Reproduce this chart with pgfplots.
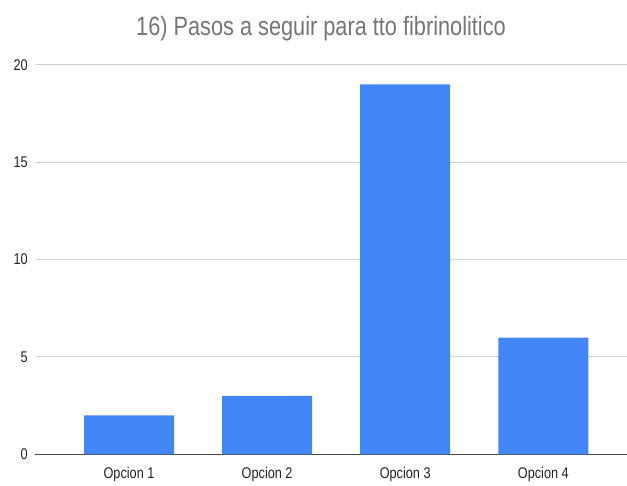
\documentclass[border=0pt]{standalone}
\usepackage{pgfplots}
\pgfplotsset{compat=1.18}
\usepackage{fontspec}
\setmainfont{Liberation Sans}[FakeStretch=0.82]
\definecolor{barblue}{HTML}{4285F4}
\definecolor{titlegrey}{HTML}{757575}
\definecolor{labelgrey}{HTML}{222222}
\definecolor{gridgrey}{HTML}{D0D0D0}
\definecolor{axisgrey}{HTML}{4A4A4A}
\begin{document}
\begin{tikzpicture}
\path[use as bounding box] (0,0) rectangle (627pt,485pt);
\node[anchor=base, text=titlegrey, font=\fontsize{26.5}{30}\selectfont] at (321pt,449pt)
  {16) Pasos a seguir para tto fibrinolitico};
\begin{axis}[
    at={(35pt,30.7pt)}, anchor=south west,
    scale only axis,
    width=592pt, height=389.3pt,
    ybar, bar width=90pt,
    xmin=-0.681, xmax=3.606,
    ymin=0, ymax=20,
    xtick=data,
    xticklabels={Opcion 1, Opcion 2, Opcion 3, Opcion 4},
    ytick={0,5,10,15,20},
    axis x line*=bottom, axis y line*=left,
    y axis line style={draw=none},
    x axis line style={draw=axisgrey, line width=1.3pt},
    major tick length=0pt,
    tick style={draw=none},
    ymajorgrids,
    grid style={gridgrey, line width=1pt},
    /pgf/number format/assume math mode=true,
    tick label style={font=\fontsize{15.5}{17}\selectfont, text=labelgrey},
    xticklabel style={anchor=north, inner sep=0pt, yshift=-12.5pt},
    yticklabel style={anchor=east, inner sep=0pt, xshift=-7pt},
]
\addplot[fill=barblue, draw=none] coordinates {
    (0, 2) (1, 3) (2, 19) (3, 6)
};
\end{axis}
\end{tikzpicture}
\end{document}
